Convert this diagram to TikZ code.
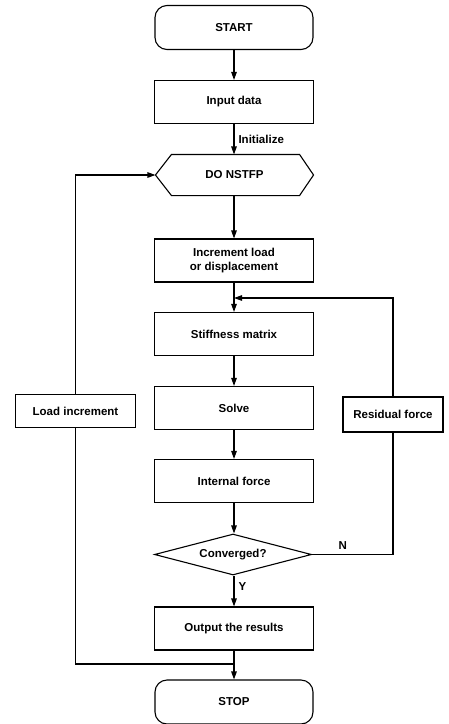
\documentclass[tikz,border=0pt]{standalone}
\usepackage{fontspec}
\setmainfont{Liberation Sans}
\usetikzlibrary{arrows.meta,shapes.geometric,calc}
\begin{document}
\begin{tikzpicture}[x=1pt,y=-1pt,
  font=\fontsize{11.5}{13.5}\selectfont\bfseries,
  line width=1.1pt,
  box/.style={draw,rectangle,minimum width=159pt,minimum height=43pt,inner sep=0pt,align=center},
  sidebox/.style={draw,rectangle,minimum height=33pt,inner sep=0pt},
  term/.style={draw,rectangle,rounded corners=12pt,minimum width=158pt,minimum height=44pt,inner sep=0pt},
  arr/.style={-{Triangle[length=8pt,width=5.5pt]}},
  lbl/.style={inner sep=0pt}]
\useasboundingbox (0,0) rectangle (449,724);
\node[term] (start) at (234,27.5) {START};
\node[box] (input) at (234,102) {Input data};
\node[minimum width=157pt,minimum height=40pt,inner sep=0pt] (do) at (234.5,175) {DO NSTFP};
\draw (do.west) -- ($(do.north west)+(16,0)$) -- ($(do.north east)+(-14,0)$) -- (do.east)
  -- ($(do.south east)+(-14,0)$) -- ($(do.south west)+(16,0)$) -- cycle;
\node[box] (incr) at (234,260.5) {Increment load\\or displacement};
\node[box] (stiff) at (234,334) {Stiffness matrix};
\node[box] (solve) at (234,408) {Solve};
\node[box] (intf) at (234,481) {Internal force};
\node[draw,diamond,minimum width=157pt,minimum height=41pt,aspect=3.8,inner sep=0pt] (conv) at (233,554.5) {Converged?};
\node[box] (out) at (234,628.5) {Output the results};
\node[term] (stop) at (234,702) {STOP};
\node[sidebox,minimum width=120pt] (load) at (75.5,411) {Load increment};
\node[sidebox,minimum width=100pt,minimum height=35pt] (resid) at (393,414.5) {Residual force};
\coordinate (j1) at (234,298);
\coordinate (j2) at (234,664);
\draw[arr] (start) -- (input);
\draw[arr] (input) -- (input |- do.north) node[lbl,pos=0.5,anchor=west,xshift=4pt] {Initialize};
\draw[arr] (do.south -| incr) -- (incr);
\draw[arr] (incr) -- (stiff);
\draw[arr] (stiff) -- (solve);
\draw[arr] (solve) -- (intf);
\draw[arr] (intf) -- (intf |- conv.north);
\draw[arr] (intf |- conv.south) -- (out) node[lbl,pos=0.35,anchor=west,xshift=4pt] {Y};
\draw[arr] (out) -- (stop);
\draw (conv.east) -- (conv.east -| resid) node[lbl,pos=0.38,anchor=south,yshift=4pt] {N} -- (resid.south);
\draw[arr] (resid.north) -- (resid |- j1) -- (j1);
\draw (j2) -- (j2 -| load) -- (load.south);
\draw[arr] (load.north) -- (load |- do.west) -- (do.west);
\end{tikzpicture}
\end{document}
